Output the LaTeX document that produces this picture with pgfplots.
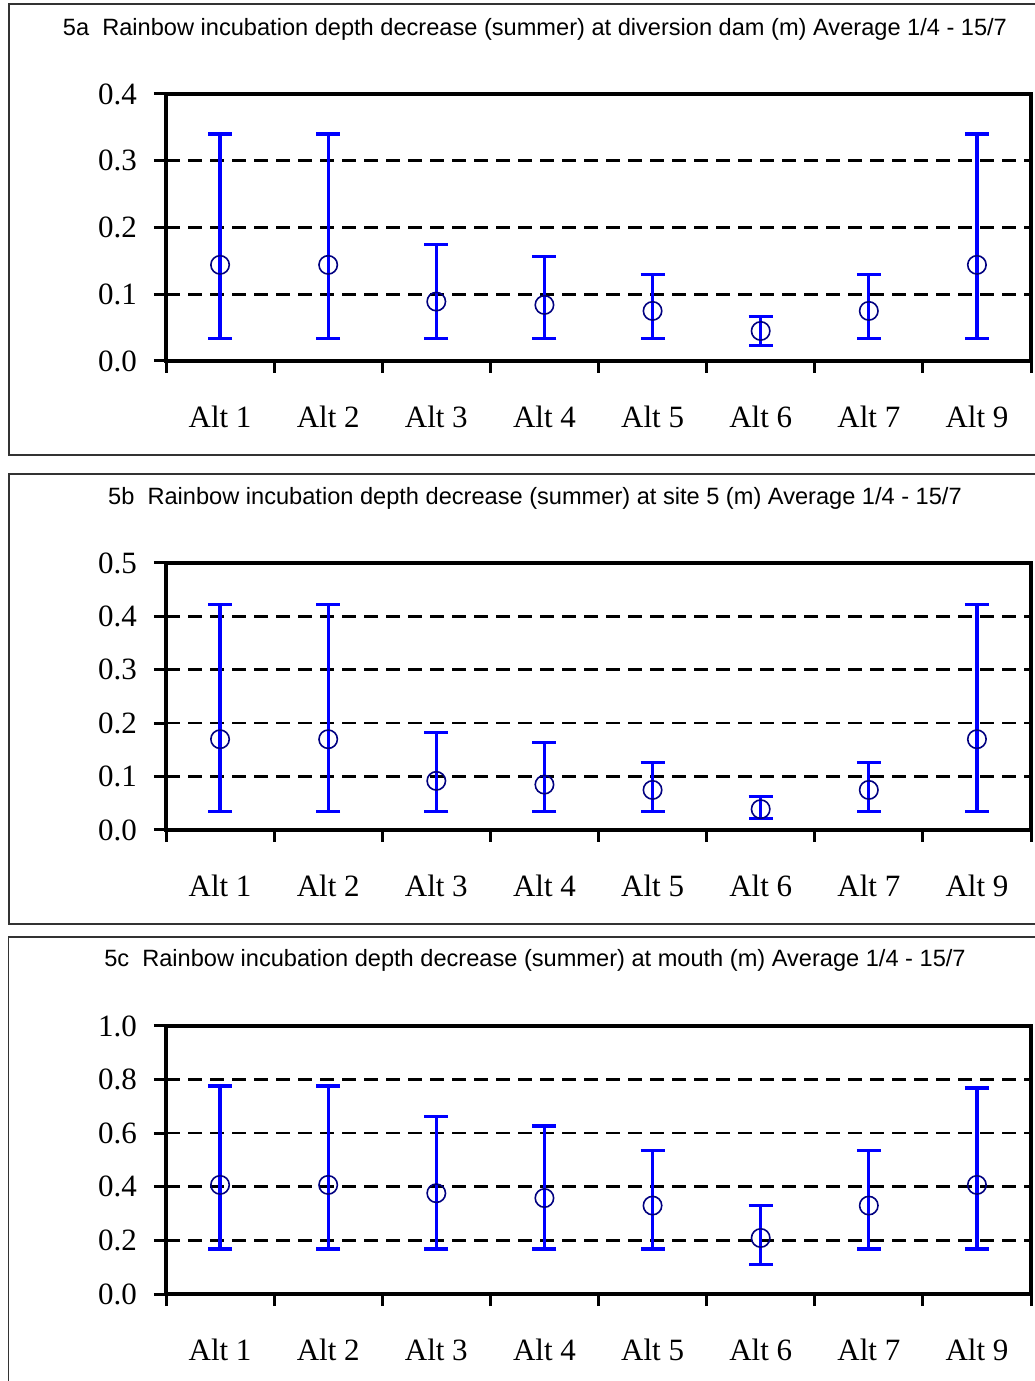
\documentclass[border=0pt]{standalone}
\usepackage{pgfplots}
\usepackage{pgfplotstable}
\pgfplotsset{compat=1.18}
\usepackage{fontspec}
\setmainfont{Liberation Serif}
\newfontfamily\titlefont{Liberation Sans}
\definecolor{errblue}{RGB}{0,0,255}
\definecolor{markblue}{RGB}{0,0,128}

\pgfplotstableread{
x   y     hi    lo
0.5 0.144 0.340 0.034
1.5 0.144 0.340 0.034
2.5 0.089 0.174 0.034
3.5 0.084 0.157 0.034
4.5 0.075 0.130 0.034
5.5 0.045 0.067 0.023
6.5 0.075 0.130 0.034
7.5 0.144 0.340 0.034
}\dataA
\pgfplotstableread{
x   y     hi    lo
0.5 0.170 0.423 0.034
1.5 0.170 0.423 0.034
2.5 0.092 0.182 0.034
3.5 0.085 0.164 0.034
4.5 0.075 0.127 0.034
5.5 0.039 0.062 0.022
6.5 0.075 0.127 0.034
7.5 0.170 0.423 0.034
}\dataB
\pgfplotstableread{
x   y     hi    lo
0.5 0.407 0.776 0.168
1.5 0.407 0.776 0.168
2.5 0.376 0.661 0.168
3.5 0.358 0.627 0.168
4.5 0.330 0.536 0.168
5.5 0.209 0.331 0.111
6.5 0.330 0.536 0.168
7.5 0.407 0.769 0.168
}\dataC

\pgfplotsset{
  panel/.style={
    scale only axis,
    width=432.5pt,
    anchor=south west,
    xmin=0, xmax=8,
    xtick={0,...,8},
    x tick label as interval,
    xticklabels={Alt 1,Alt 2,Alt 3,Alt 4,Alt 5,Alt 6,Alt 7,Alt 9},
    ymin=0,
    xtick pos=bottom, ytick pos=left,
    tick align=outside,
    major tick length=6pt,
    tick style={black, line width=1.5pt},
    axis line style={black, line width=1.6pt},
    ymajorgrids,
    grid style={black, line width=1.3pt, dash pattern=on 7pt off 4pt},
    every tick label/.append style={font=\fontsize{15.5}{18}\selectfont},
    /pgf/number format/assume math mode=true,
    yticklabel style={xshift=-5pt, /pgf/number format/.cd, fixed, fixed zerofill, precision=1},
    xticklabel style={yshift=-13pt},
    clip=false,
  },
  ebar/.style={
    only marks,
    mark=o,
    mark size=4.6pt,
    mark options={markblue, line width=0.8pt, fill=none},
    error bars/.cd,
      y dir=both, y explicit,
      error bar style={errblue, line width=1.6pt},
      error mark options={errblue, rotate=90, mark size=6pt, line width=1.6pt},
  },
}

\begin{document}
\begin{tikzpicture}
\useasboundingbox (0,0) rectangle (517pt,690.5pt);
% panel boxes
\draw[black!80, line width=0.6pt] (4.5pt,463pt) rectangle (530pt,688.5pt);
\draw[black!80, line width=0.6pt] (4.5pt,228.5pt) rectangle (530pt,453.5pt);
\draw[black!80, line width=0.6pt] (4.2pt,-10pt) rectangle (530pt,222pt);
% titles
\node[font=\titlefont\fontsize{11.8}{14}\selectfont] at (267.5pt,676pt)
  {5a\ \ Rainbow incubation depth decrease (summer) at diversion dam (m) Average 1/4 - 15/7};
\node[font=\titlefont\fontsize{11.8}{14}\selectfont] at (267.5pt,441.5pt)
  {5b\ \ Rainbow incubation depth decrease (summer) at site 5 (m) Average 1/4 - 15/7};
\node[font=\titlefont\fontsize{11.8}{14}\selectfont] at (267.5pt,210.5pt)
  {5c\ \ Rainbow incubation depth decrease (summer) at mouth (m) Average 1/4 - 15/7};

\begin{axis}[panel, at={(83pt,510pt)}, height=133.5pt, ymax=0.4, ytick={0,0.1,...,0.4}]
\addplot[ebar] table[x=x, y=y, y error plus expr=\thisrow{hi}-\thisrow{y}, y error minus expr=\thisrow{y}-\thisrow{lo}] {\dataA};
\end{axis}

\begin{axis}[panel, at={(83pt,275.5pt)}, height=133.5pt, ymax=0.5, ytick={0,0.1,...,0.5}]
\addplot[ebar] table[x=x, y=y, y error plus expr=\thisrow{hi}-\thisrow{y}, y error minus expr=\thisrow{y}-\thisrow{lo}] {\dataB};
\end{axis}

\begin{axis}[panel, at={(83pt,43.5pt)}, height=134pt, ymax=1.0, ytick={0,0.2,...,1.0}]
\addplot[ebar] table[x=x, y=y, y error plus expr=\thisrow{hi}-\thisrow{y}, y error minus expr=\thisrow{y}-\thisrow{lo}] {\dataC};
\end{axis}
\end{tikzpicture}
\end{document}
